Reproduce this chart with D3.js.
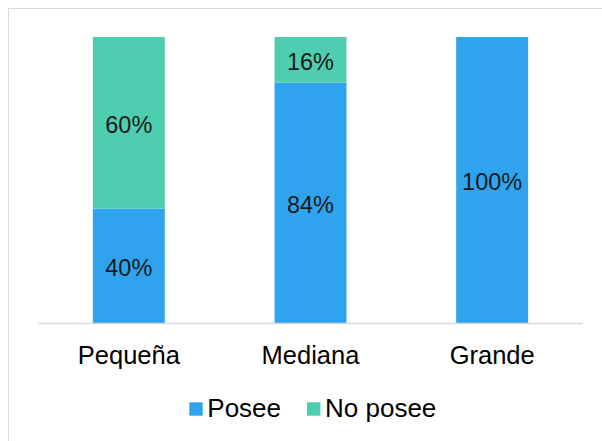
<!DOCTYPE html>
<html><head><meta charset="utf-8">
<script src="https://cdn.jsdelivr.net/npm/d3@7"></script>
<style>body{margin:0;background:#fff}svg{display:block}</style>
</head><body>
<svg id="c" width="602" height="441"></svg>
<script>
const categories = ["Pequeña", "Mediana", "Grande"];
const posee = [40, 84, 100];
const noPosee = [60, 16, 0];
const seriesNames = ["Posee", "No posee"];
const colors = ["#2fa3ee", "#4fcdb0"];

const svg = d3.select("#c");
const font = "Liberation Sans, Arial, sans-serif";
// frame
svg.append("rect").attr("x", 8.5).attr("y", 8.5).attr("width", 620).attr("height", 460)
  .attr("fill", "none").attr("stroke", "#d9d9d9").attr("stroke-width", 1);

const x = d3.scaleBand().domain(categories).range([38, 583]).paddingInner(0.604).paddingOuter(0.302);
const y = d3.scaleLinear().domain([0, 100]).range([323, 37]);

const data = categories.map((c, i) => ({cat: c, Posee: posee[i], "No posee": noPosee[i]}));
const stack = d3.stack().keys(seriesNames)(data);

stack.forEach((s, si) => {
  const g = svg.append("g");
  g.selectAll("rect").data(s.filter(d => d[1] - d[0] > 0)).join("rect")
    .attr("x", d => x(d.data.cat)).attr("width", x.bandwidth())
    .attr("y", d => y(d[1])).attr("height", d => y(d[0]) - y(d[1]))
    .attr("fill", colors[si]);
  g.selectAll("text").data(s.filter(d => d[1] - d[0] > 0)).join("text")
    .attr("x", d => x(d.data.cat) + x.bandwidth() / 2)
    .attr("y", d => (y(d[0]) + y(d[1])) / 2 + 1.5)
    .attr("dy", "0.36em").attr("text-anchor", "middle")
    .attr("font-family", font).attr("font-size", 23.5).attr("fill", "#1a1a1a")
    .text(d => (d[1] - d[0]) + "%");
});

// axis
const ax = svg.append("g").attr("transform", "translate(0,323)")
  .call(d3.axisBottom(x).tickSize(0).tickPadding(22));
ax.select(".domain").attr("stroke", "#d9d9d9").attr("stroke-width", 1.5).attr("d", "M38,0.5H583");
ax.selectAll("text").attr("font-family", font).attr("font-size", 25.5).attr("fill", "#000")
  .attr("dy", null).attr("y", 40.7);

// legend
const legX = [189.3, 307];
seriesNames.forEach((n, i) => {
  svg.append("rect").attr("x", legX[i]).attr("y", 402.3).attr("width", 13.4).attr("height", 13.4).attr("fill", colors[i]);
  svg.append("text").attr("x", legX[i] + 18).attr("y", 417.3)
    .attr("font-family", font).attr("font-size", 26).attr("fill", "#000").text(n);
});
</script>
</body></html>
